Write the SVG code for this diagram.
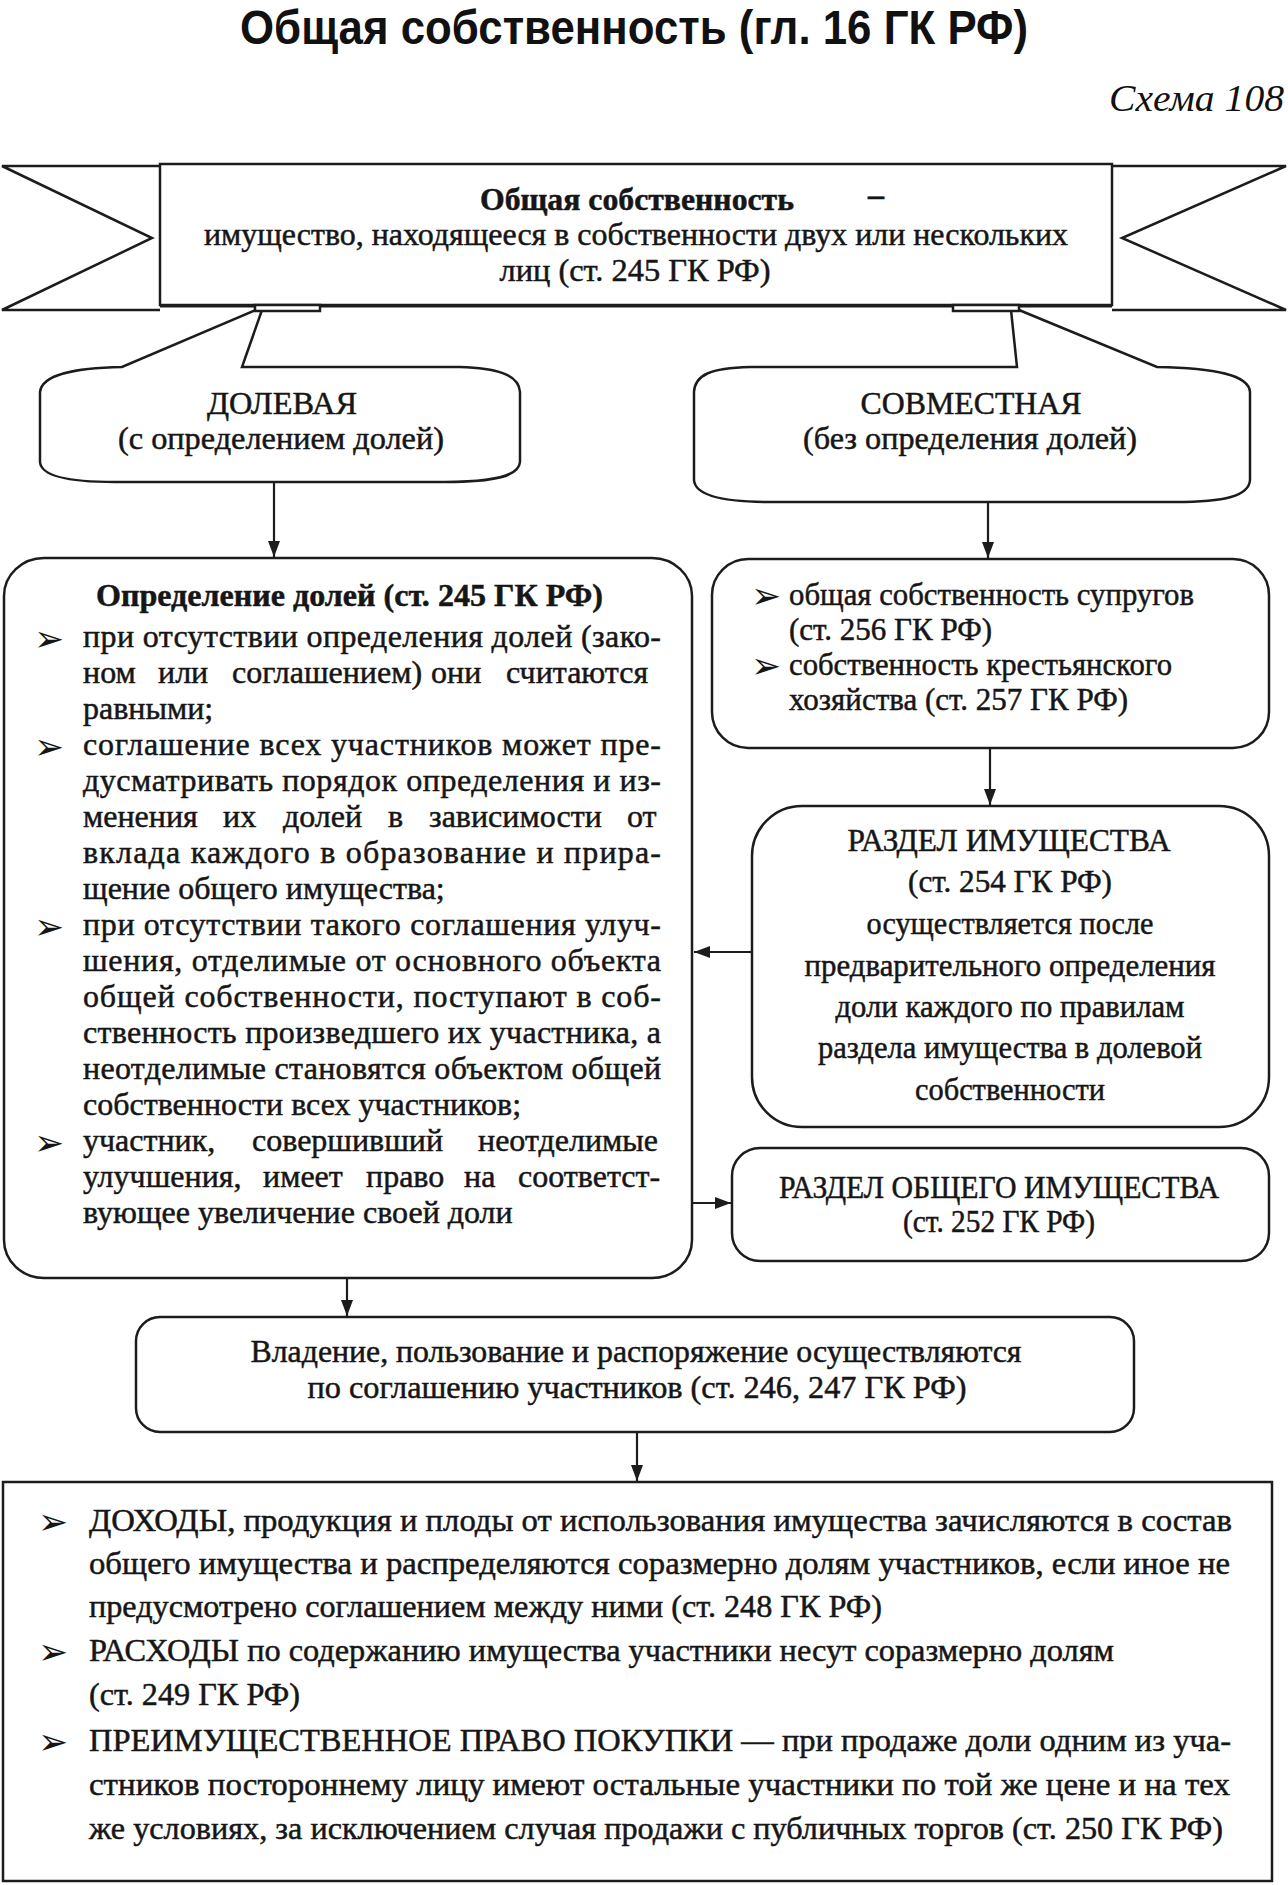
<svg xmlns="http://www.w3.org/2000/svg" width="1288" height="1885" viewBox="0 0 1288 1885">
<defs>
<style>
.t{font-family:"Liberation Serif","Times New Roman",serif;font-size:32px;fill:#161616;stroke:#161616;stroke-width:0.5}
.b{font-weight:bold}
.c{text-anchor:middle}
.box{fill:#fff;stroke:#1c1c1c;stroke-width:2.5}
.ln{fill:none;stroke:#1c1c1c;stroke-width:2.2}
.bul{font-family:"DejaVu Sans",sans-serif;font-size:36px;fill:#161616}
</style>
<marker id="ah" viewBox="0 0 16 12" markerWidth="16" markerHeight="12" refX="16" refY="6" orient="auto" markerUnits="userSpaceOnUse">
<path d="M0,0 L16,6 L0,12 z" fill="#1c1c1c"/>
</marker>
</defs>
<rect width="1288" height="1885" fill="#fff"/>

<g id="title">
<text x="634" y="44" text-anchor="middle" font-family="'Liberation Sans Narrow','Liberation Sans',Arial,sans-serif" font-weight="bold" font-size="49" textLength="788" lengthAdjust="spacingAndGlyphs" fill="#111">Общая собственность (гл. 16 ГК РФ)</text>
<text x="1284" y="111" text-anchor="end" font-family="'Liberation Serif','Times New Roman',serif" font-style="italic" font-size="38" textLength="175" lengthAdjust="spacingAndGlyphs" fill="#111">Схема 108</text>
</g>

<g id="banner">
<path class="box" d="M160,166 L2,166 L152,238 L2,310 L160,310"/>
<path class="box" d="M1112,166 L1286,166 L1122,238 L1286,310 L1112,310"/>
<rect class="box" x="160" y="164" width="952" height="141"/>
<line x1="160" y1="306" x2="1112" y2="306" stroke="#1c1c1c" stroke-width="3"/>
<text class="t b c" x="637" y="210" font-size="32" textLength="314" lengthAdjust="spacingAndGlyphs">Общая собственность</text>
<text class="t b" x="868" y="205" font-size="32">–</text>
<text class="t c" x="636" y="245" font-size="32" textLength="864" lengthAdjust="spacingAndGlyphs">имущество, находящееся в собственности двух или нескольких</text>
<text class="t c" x="635" y="281" font-size="32" textLength="271" lengthAdjust="spacingAndGlyphs">лиц (ст. 245 ГК РФ)</text>
</g>

<g id="dolevaya">
<path class="box" d="M256,310 L122,367 C75,368 42,374 40,392 L40,462 C41,476 70,482 115,482 L445,482 C495,482 519,476 520,462 L520,392 C519,374 495,368 460,367 L242,367 L262,310"/>
<rect class="box" x="255" y="305" width="65" height="6" stroke-width="2"/>
<text class="t c" x="282" y="414" font-size="32" textLength="150" lengthAdjust="spacingAndGlyphs">ДОЛЕВАЯ</text>
<text class="t c" x="281" y="449" font-size="31" textLength="326" lengthAdjust="spacingAndGlyphs">(с определением долей)</text>
</g>

<g id="sovmestnaya">
<path class="box" d="M1011,310 L1017,367 L750,367 C710,368 695,375 694,392 L694,480 C695,496 725,502 770,502 L1175,502 C1225,502 1249,496 1250,480 L1250,392 C1249,375 1215,368 1157,367 L1019,310"/>
<rect class="box" x="953" y="305" width="66" height="6" stroke-width="2"/>
<text class="t c" x="971" y="414" font-size="32" textLength="221" lengthAdjust="spacingAndGlyphs">СОВМЕСТНАЯ</text>
<text class="t c" x="970" y="449" font-size="31" textLength="334" lengthAdjust="spacingAndGlyphs">(без определения долей)</text>
</g>

<g id="opredelenie">
<rect class="box" x="4" y="558" width="688" height="720" rx="40" ry="38"/>
<text class="t b" x="96" y="606" font-size="30" textLength="507" lengthAdjust="spacingAndGlyphs">Определение долей (ст. 245 ГК РФ)</text>
<text class="bul" x="34" y="651">➢</text>
<text class="t" x="83" y="647" textLength="578">при отсутствии определения долей (зако-</text>
<text class="t" y="683"><tspan x="83">ном</tspan><tspan x="158">или</tspan><tspan x="232">соглашением)</tspan><tspan x="431">они</tspan><tspan x="506">считаются</tspan></text>
<text class="t" x="83" y="719">равными;</text>
<text class="bul" x="34" y="759">➢</text>
<text class="t" x="83" y="755" textLength="578">соглашение всех участников может пре-</text>
<text class="t" x="83" y="791" textLength="578">дусматривать порядок определения и из-</text>
<text class="t" y="827"><tspan x="83">менения</tspan><tspan x="223">их</tspan><tspan x="283">долей</tspan><tspan x="388">в</tspan><tspan x="429">зависимости</tspan><tspan x="627">от</tspan></text>
<text class="t" x="83" y="863" textLength="578">вклада каждого в образование и прира-</text>
<text class="t" x="83" y="899">щение общего имущества;</text>
<text class="bul" x="34" y="939">➢</text>
<text class="t" x="83" y="935" textLength="578">при отсутствии такого соглашения улуч-</text>
<text class="t" x="83" y="971" textLength="578">шения, отделимые от основного объекта</text>
<text class="t" x="83" y="1007" textLength="578">общей собственности, поступают в соб-</text>
<text class="t" x="83" y="1043" textLength="578">ственность произведшего их участника, а</text>
<text class="t" x="83" y="1079" textLength="578">неотделимые становятся объектом общей</text>
<text class="t" x="83" y="1115">собственности всех участников;</text>
<text class="bul" x="34" y="1155">➢</text>
<text class="t" y="1151"><tspan x="83">участник,</tspan><tspan x="252">совершивший</tspan><tspan x="478">неотделимые</tspan></text>
<text class="t" y="1187"><tspan x="83">улучшения,</tspan><tspan x="263">имеет</tspan><tspan x="366">право</tspan><tspan x="464">на</tspan><tspan x="518">соответст-</tspan></text>
<text class="t" x="83" y="1223">вующее увеличение своей доли</text>
</g>

<g id="vidy">
<rect class="box" x="712" y="559" width="557" height="189" rx="36"/>
<text class="bul" x="751" y="608" font-size="30">➢</text>
<text class="t" x="789" y="605" font-size="30" textLength="405" lengthAdjust="spacingAndGlyphs">общая собственность супругов</text>
<text class="t" x="789" y="640" font-size="30" textLength="203" lengthAdjust="spacingAndGlyphs">(ст. 256 ГК РФ)</text>
<text class="bul" x="751" y="678" font-size="30">➢</text>
<text class="t" x="789" y="675" font-size="30" textLength="383" lengthAdjust="spacingAndGlyphs">собственность крестьянского</text>
<text class="t" x="789" y="710" font-size="30" textLength="339" lengthAdjust="spacingAndGlyphs">хозяйства (ст. 257 ГК РФ)</text>
</g>

<g id="razdel-imushchestva">
<rect class="box" x="752" y="806" width="517" height="321" rx="50"/>
<text class="t c" x="1009" y="851" font-size="30" textLength="323" lengthAdjust="spacingAndGlyphs">РАЗДЕЛ ИМУЩЕСТВА</text>
<text class="t c" x="1010" y="892" font-size="30" textLength="204" lengthAdjust="spacingAndGlyphs">(ст. 254 ГК РФ)</text>
<text class="t c" x="1010" y="934" font-size="30" textLength="287" lengthAdjust="spacingAndGlyphs">осуществляется после</text>
<text class="t c" x="1010" y="976" font-size="30" textLength="411" lengthAdjust="spacingAndGlyphs">предварительного определения</text>
<text class="t c" x="1010" y="1017" font-size="30" textLength="349" lengthAdjust="spacingAndGlyphs">доли каждого по правилам</text>
<text class="t c" x="1010" y="1058" font-size="30" textLength="384" lengthAdjust="spacingAndGlyphs">раздела имущества в долевой</text>
<text class="t c" x="1010" y="1100" font-size="30" textLength="190" lengthAdjust="spacingAndGlyphs">собственности</text>
</g>

<g id="razdel-obshchego">
<rect class="box" x="732" y="1148" width="537" height="113" rx="28"/>
<text class="t c" x="999" y="1198" font-size="30" textLength="440" lengthAdjust="spacingAndGlyphs">РАЗДЕЛ ОБЩЕГО ИМУЩЕСТВА</text>
<text class="t c" x="999" y="1232" font-size="30" textLength="192" lengthAdjust="spacingAndGlyphs">(ст. 252 ГК РФ)</text>
</g>

<g id="vladenie">
<rect class="box" x="136" y="1317" width="998" height="115" rx="24"/>
<text class="t c" x="636" y="1362" font-size="33" textLength="771" lengthAdjust="spacingAndGlyphs">Владение, пользование и распоряжение осуществляются</text>
<text class="t c" x="637" y="1398" font-size="33" textLength="659" lengthAdjust="spacingAndGlyphs">по соглашению участников (ст. 246, 247 ГК РФ)</text>
</g>

<g id="dokhody">
<rect class="box" x="3" y="1482" width="1269" height="399" stroke-width="3"/>
<text class="bul" x="38" y="1534" font-size="30">➢</text>
<text class="t" x="89" y="1531" font-size="34" textLength="1143" lengthAdjust="spacingAndGlyphs">ДОХОДЫ, продукция и плоды от использования имущества зачисляются в состав</text>
<text class="t" x="89" y="1574" font-size="34" textLength="1141" lengthAdjust="spacingAndGlyphs">общего имущества и распределяются соразмерно долям участников, если иное не</text>
<text class="t" x="89" y="1617" font-size="34" textLength="793" lengthAdjust="spacingAndGlyphs">предусмотрено соглашением между ними (ст. 248 ГК РФ)</text>
<text class="bul" x="38" y="1664" font-size="30">➢</text>
<text class="t" x="89" y="1661" font-size="34" textLength="1025" lengthAdjust="spacingAndGlyphs">РАСХОДЫ по содержанию имущества участники несут соразмерно долям</text>
<text class="t" x="89" y="1705" font-size="34" textLength="211" lengthAdjust="spacingAndGlyphs">(ст. 249 ГК РФ)</text>
<text class="bul" x="38" y="1754" font-size="30">➢</text>
<text class="t" x="89" y="1751" font-size="34" textLength="1142" lengthAdjust="spacingAndGlyphs">ПРЕИМУЩЕСТВЕННОЕ ПРАВО ПОКУПКИ — при продаже доли одним из уча-</text>
<text class="t" x="89" y="1795" font-size="34" textLength="1141" lengthAdjust="spacingAndGlyphs">стников постороннему лицу имеют остальные участники по той же цене и на тех</text>
<text class="t" x="89" y="1839" font-size="34" textLength="1134" lengthAdjust="spacingAndGlyphs">же условиях, за исключением случая продажи с публичных торгов (ст. 250 ГК РФ)</text>
</g>

<g id="connectors">
<line class="ln" x1="274" y1="482" x2="274" y2="557" marker-end="url(#ah)"/>
<line class="ln" x1="988" y1="502" x2="988" y2="558" marker-end="url(#ah)"/>
<line class="ln" x1="990" y1="748" x2="990" y2="805" marker-end="url(#ah)"/>
<line class="ln" x1="752" y1="952" x2="694" y2="952" marker-end="url(#ah)"/>
<line class="ln" x1="692" y1="1203" x2="731" y2="1203" marker-end="url(#ah)"/>
<line class="ln" x1="347" y1="1278" x2="347" y2="1316" marker-end="url(#ah)"/>
<line class="ln" x1="637" y1="1432" x2="637" y2="1481" marker-end="url(#ah)"/>
</g>
</svg>
